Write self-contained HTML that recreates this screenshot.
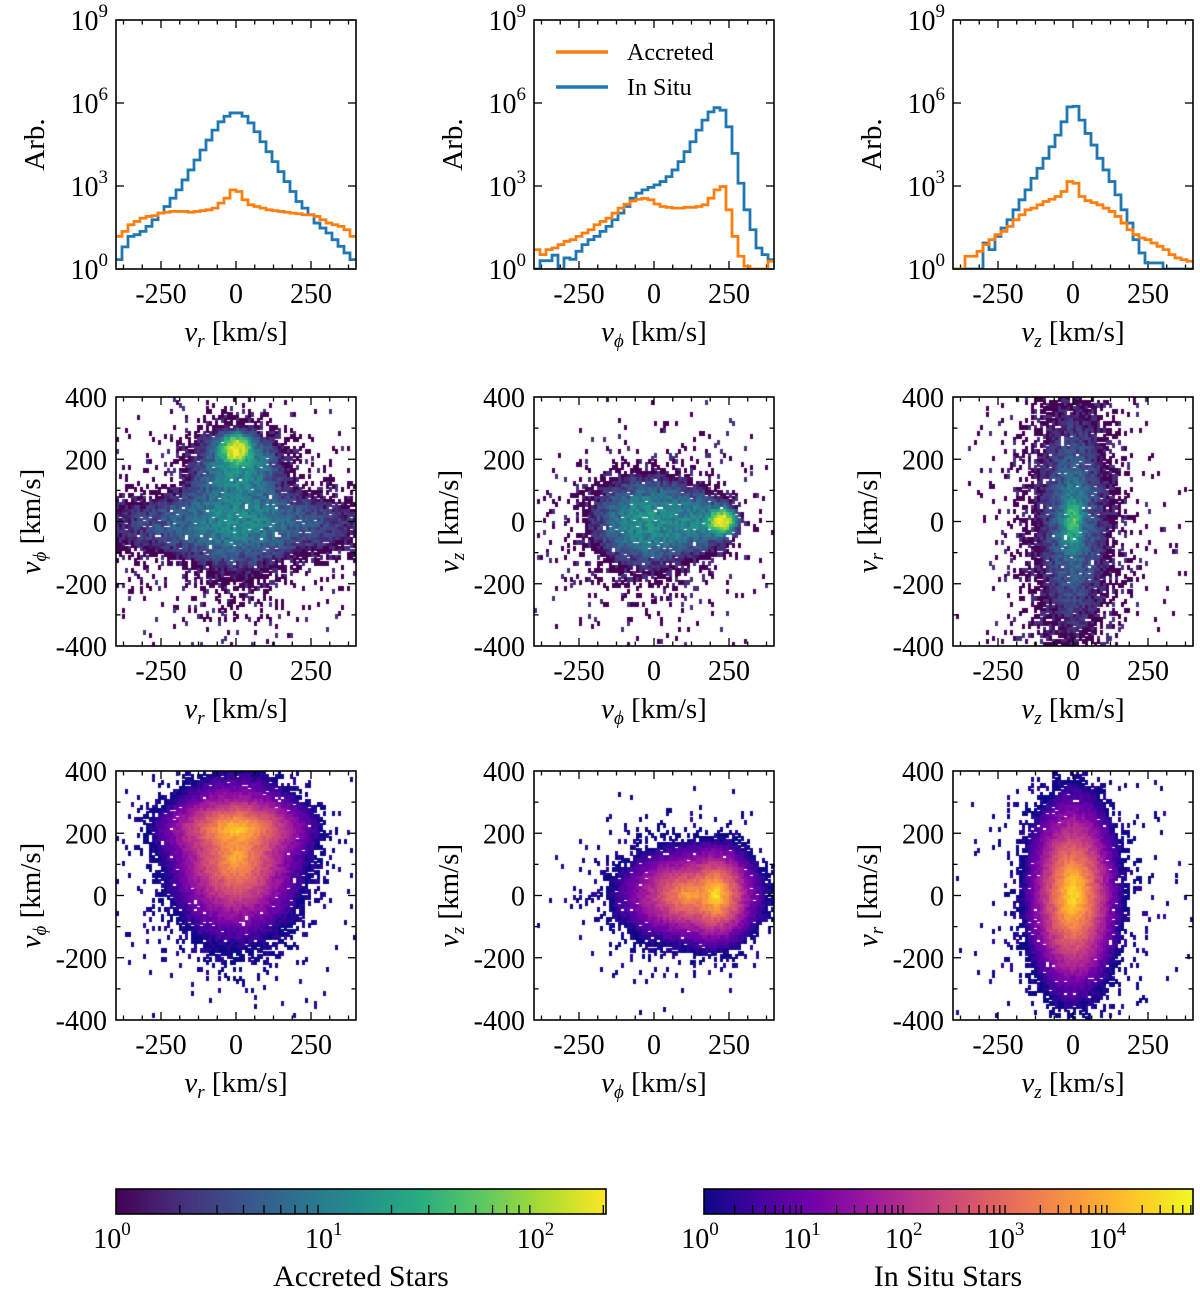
<!DOCTYPE html>
<html><head><meta charset="utf-8">
<style>
body{margin:0;background:#fff;width:1200px;height:1293px;position:relative;overflow:hidden;font-family:"Liberation Serif",serif;}
canvas{position:absolute;}
svg{position:absolute;left:0;top:0;}
text{font-family:"Liberation Serif",serif;fill:#000;}
</style></head>
<body>
<canvas id="h0" width="240" height="249" style="left:116px;top:397px"></canvas>
<canvas id="h1" width="240" height="249" style="left:534px;top:397px"></canvas>
<canvas id="h2" width="240" height="249" style="left:953px;top:397px"></canvas>
<canvas id="h3" width="240" height="249" style="left:116px;top:771px"></canvas>
<canvas id="h4" width="240" height="249" style="left:534px;top:771px"></canvas>
<canvas id="h5" width="240" height="249" style="left:953px;top:771px"></canvas>
<canvas id="cb0" width="490" height="25" style="left:116px;top:1189px"></canvas>
<canvas id="cb1" width="489" height="25" style="left:704px;top:1189px"></canvas>
<svg id="fig" width="1200" height="1293" xmlns="http://www.w3.org/2000/svg">
  <g>
    <line x1="556" y1="52" x2="608" y2="52" stroke="#ff7f0e" stroke-width="3.5"/>
    <text x="627" y="60" font-size="24">Accreted</text>
    <line x1="556" y1="87" x2="608" y2="87" stroke="#1f77b4" stroke-width="3.5"/>
    <text x="627" y="95" font-size="24">In Situ</text>
  </g>
  <text x="361" y="1286" font-size="30" text-anchor="middle">Accreted Stars</text>
  <text x="948" y="1286" font-size="30" text-anchor="middle">In Situ Stars</text>
</svg>
<script>
// ---- 1D histogram data: log10(counts), bins of 20 km/s from -400 to 400 ----
const histBinStart = -400;
const histBinWidth = 20;
const vrInSitu = [0.34,0.8,1.18,1.24,1.36,1.54,1.78,2.02,2.26,2.56,2.86,3.22,3.58,3.94,4.3,4.66,5.02,5.32,5.52,5.64,5.64,5.52,5.28,4.96,4.6,4.24,3.88,3.52,3.16,2.8,2.44,2.2,1.96,1.66,1.48,1.3,1.06,0.82,0.58,0.34];
const vrAccreted = [1.18,1.36,1.6,1.72,1.84,1.9,1.93,2.02,2.05,2.08,2.08,2.08,2.05,2.08,2.11,2.14,2.2,2.38,2.56,2.86,2.8,2.5,2.32,2.26,2.2,2.14,2.11,2.08,2.05,2.02,2.0,1.96,1.96,1.9,1.78,1.66,1.6,1.54,1.42,1.18];
const vphiInSitu = [0,0.3,0.3,0.5,0,0.4,0.35,0.64,0.88,1.06,1.18,1.36,1.54,1.78,2.02,2.26,2.56,2.74,2.86,2.95,3.04,3.16,3.34,3.58,3.88,4.24,4.6,5.02,5.38,5.68,5.83,5.74,5.14,4.18,3.1,2.14,1.42,0.76,0.52,0.34];
const vphiAccreted = [0.7,0.52,0.7,0.76,0.88,1.0,1.06,1.18,1.3,1.42,1.6,1.72,1.84,2.02,2.2,2.34,2.46,2.52,2.55,2.5,2.35,2.26,2.23,2.2,2.2,2.23,2.23,2.26,2.32,2.56,2.86,2.98,2.14,1.18,0.46,0.1,0,0,0,0.28];
const vzInSitu = [0,0,0,0,0,0.94,0.7,1.18,1.48,1.78,2.14,2.5,2.86,3.28,3.64,4.0,4.42,4.84,5.32,5.86,5.88,5.38,4.9,4.48,4.0,3.58,3.16,2.68,2.14,1.66,1.06,0.58,0.22,0.22,0.22,0,0,0,0,0];
const vzAccreted = [0,0,0.46,0.46,0.64,0.88,1.06,1.24,1.36,1.54,1.78,1.96,2.14,2.2,2.32,2.44,2.52,2.62,2.8,3.16,3.1,2.62,2.47,2.4,2.32,2.2,2.08,1.9,1.66,1.42,1.24,1.12,1.06,0.94,0.82,0.7,0.52,0.4,0.34,0.28];

// ---- 2D density components: [centerX, centerY, scaleX, scaleY, peakCounts, profile(2=gauss,1=exp)] (km/s) ----
const accVrVphi = [[0,-10,250,55,6,2],[0,60,90,120,7,2],[0,230,22,20,220,2],[10,190,60,50,12,2],[0,-30,220,200,0.6,2]];
const accVphiVz = [[-20,0,90,70,14,2],[225,0,20,18,220,2],[150,0,60,50,8,2],[0,-20,200,170,0.5,2]];
const accVzVr   = [[0,0,75,250,4,2],[0,0,14,35,40,2],[0,0,30,100,7,2],[0,0,160,300,0.4,2]];
const insVrVphi = [[0,210,28,14,30000,1],[0,120,27,32,10000,1],[0,0,180,170,0.5,2]];
const insVphiVz = [[205,0,14,17,50000,1],[120,0,30,19,8000,1],[50,0,150,140,0.5,2]];
const insVzVr   = [[0,0,16,34,50000,1],[0,0,150,220,0.5,2]];
const accMax = 206, insMax = 63000;

const NS = "http://www.w3.org/2000/svg";
const svg = document.getElementById('fig');
const COLS = [116,534,953], ROWS = [20,397,771], W = 240, H = 249;
function mk(tag, attrs, parent){const e=document.createElementNS(NS,tag);for(const k in attrs)e.setAttribute(k,attrs[k]);(parent||svg).appendChild(e);return e;}
function xScale(c){return v=>COLS[c]+(v+400)/800*W;}
function yLin(r){return v=>ROWS[r]+(400-v)/800*H;}
function yLog(r){return v=>ROWS[r]+H-(v/9)*H;}

const viridis=["#440154","#472d7b","#3b528b","#2c728e","#21918c","#28ae80","#5ec962","#addc30","#fde725"];
const plasma=["#0d0887","#46039f","#7201a8","#9c179e","#bd3786","#d8576b","#ed7953","#fb9f3a","#fdca26","#f0f921"];
function cmap(stops,t){t=Math.max(0,Math.min(1,t));const n=stops.length-1;const i=Math.min(n-1,Math.floor(t*n));const f=t*n-i;
  const a=stops[i],b=stops[i+1];const p=(s,o)=>parseInt(s.substr(o,2),16);
  const r=Math.round(p(a,1)+(p(b,1)-p(a,1))*f),g=Math.round(p(a,3)+(p(b,3)-p(a,3))*f),bl=Math.round(p(a,5)+(p(b,5)-p(a,5))*f);
  return `rgb(${r},${g},${bl})`;}
function hash(i,j,k){let h=(i*374761393+j*668265263+k*1442695041)|0;h=Math.imul(h^(h>>>13),1274126177);h^=h>>>16;return (h>>>0)/4294967296;}

const xlabels=[["v","r"],["v","ϕ"],["v","z"]];
const ylabRow2=[["v","ϕ"],["v","z"],["v","r"]];
function axisLabel(x,y,lab,rot,name){
  const t=mk('text',{x:x,y:y,'font-size':29,'text-anchor':'middle'});
  if(rot)t.setAttribute('transform',`rotate(-90 ${x} ${y})`);
  
  
  const a=mk('tspan',{'font-style':'italic'},t);a.textContent=lab[0];
  const b=mk('tspan',{'font-style':'italic','font-size':19,dy:6},t);b.textContent=lab[1];
  const c=mk('tspan',{dy:-6},t);c.textContent="  [km/s]";
}
function pow10(x,y,e,anchor,name){
  const t=mk('text',{x:x,y:y,'font-size':28,'text-anchor':anchor});
  
  
  const a=mk('tspan',{},t);a.textContent="10";
  const b=mk('tspan',{'font-size':19,dy:-13},t);b.textContent=String(e);
}
for(let r=0;r<3;r++){for(let c=0;c<3;c++){
  const x0=COLS[c],y0=ROWS[r];
  const g=mk('g',{});
  
  
  const X=xScale(c);
  for(let v=-375;v<=375;v+=62.5){const major=(v%250===0);const L=major?8:4.5;const px=X(v);
    mk('line',{x1:px,y1:y0+H,x2:px,y2:y0+H-L,stroke:'#000','stroke-width':1.3},g);
    mk('line',{x1:px,y1:y0,x2:px,y2:y0+L,stroke:'#000','stroke-width':1.3},g);}
  [-250,0,250].forEach(v=>{const t=mk('text',{x:X(v),y:y0+H+34,'font-size':28,'text-anchor':'middle'},g);t.textContent=(v<0?"-"+(-v):String(v));
    
    });
  axisLabel(x0+W/2,y0+H+72,xlabels[c],false,'x-axis-title');
  if(r===0){
    const Y=yLog(r);
    [0,3,6,9].forEach(e=>{const py=Y(e);
      mk('line',{x1:x0,y1:py,x2:x0+8,y2:py,stroke:'#000','stroke-width':1.3},g);
      mk('line',{x1:x0+W,y1:py,x2:x0+W-8,y2:py,stroke:'#000','stroke-width':1.3},g);
      pow10(x0-8,py+10,e,'end','y-tick-label');});
    const t=mk('text',{x:x0-72,y:y0+H/2,'font-size':29,'text-anchor':'middle',transform:`rotate(-90 ${x0-72} ${y0+H/2})`},g);t.textContent="Arb.";
    
    
  } else {
    const Y=yLin(r);
    for(let v=-300;v<=300;v+=100){const major=(v%200===0);const L=major?8:4.5;const py=Y(v);
      mk('line',{x1:x0,y1:py,x2:x0+L,y2:py,stroke:'#000','stroke-width':1.3},g);
      mk('line',{x1:x0+W,y1:py,x2:x0+W-L,y2:py,stroke:'#000','stroke-width':1.3},g);}
    [-400,-200,0,200,400].forEach(v=>{const t=mk('text',{x:x0-9,y:Y(v)+10,'font-size':28,'text-anchor':'end'},g);t.textContent=(v<0?"-"+(-v):String(v));
      
      });
    axisLabel(x0-76,y0+H/2,ylabRow2[c],true,'y-axis-title');
  }
  mk('rect',{x:x0,y:y0,width:W,height:H,fill:'none',stroke:'#000','stroke-width':1.6},g);
}}

function stepPath(c,vals){const X=xScale(c),Y=yLog(0);let d="";
  vals.forEach((v,i)=>{const xa=X(histBinStart+i*histBinWidth),xb=X(histBinStart+(i+1)*histBinWidth);const y=Y(Math.max(0,v));
    d+=(i===0?`M${xa},${y}`:`L${xa},${y}`)+`L${xb},${y}`;});return d;}
const histSets=[[vrInSitu,vrAccreted],[vphiInSitu,vphiAccreted],[vzInSitu,vzAccreted]];
histSets.forEach((s,c)=>{
  const cp=mk('clipPath',{id:'cp'+c});mk('rect',{x:COLS[c],y:ROWS[0],width:W,height:H},cp);
  const pb=mk('path',{d:stepPath(c,s[0]),fill:'none',stroke:'#1f77b4','stroke-width':2.8,'clip-path':`url(#cp${c})`});
  
  
  const po=mk('path',{d:stepPath(c,s[1]),fill:'none',stroke:'#ff7f0e','stroke-width':2.8,'clip-path':`url(#cp${c})`});
  
  
});
Array.from(svg.querySelectorAll('rect[fill="none"]')).forEach(r=>svg.appendChild(r));

function dens(x,y,comps){let s=0;comps.forEach(k=>{const dx=(x-k[0])/k[2],dy=(y-k[1])/k[3];
  s+= k[5]===1 ? k[4]*Math.exp(-Math.sqrt(dx*dx+dy*dy)) : k[4]*Math.exp(-0.5*(dx*dx+dy*dy));});return s;}
function heat(id,comps,stops,vmax,seed){
  const ctx=document.getElementById(id).getContext('2d');const nb=80,cw=W/nb,ch=H/nb;
  for(let i=0;i<nb;i++)for(let j=0;j<nb;j++){
    const vx=-400+(i+0.5)*10,vy=400-(j+0.5)*10;const d=dens(vx,vy,comps);
    const h1=hash(i,j,seed),h2=hash(j,i,seed+7);
    let n;
    if(d<1.5){ if(h1<d*0.6) n=1+(h2<0.3?1:0); else continue; }
    else { n=d*(0.5+1.0*h2); if(d<30 && h1<0.06) continue; }
    ctx.fillStyle=cmap(stops,Math.log10(Math.max(1,n))/Math.log10(vmax));
    ctx.fillRect(Math.floor(i*cw),Math.floor(j*ch),Math.ceil(cw),Math.ceil(ch)+1);
  }
}
heat('h0',accVrVphi,viridis,accMax,11);
heat('h1',accVphiVz,viridis,accMax,23);
heat('h2',accVzVr,viridis,accMax,37);
heat('h3',insVrVphi,plasma,insMax,41);
heat('h4',insVphiVz,plasma,insMax,53);
heat('h5',insVzVr,plasma,insMax,67);

function cbar(id,stops,left,width,vmax,decs,name){
  const cv=document.getElementById(id),ctx=cv.getContext('2d');
  for(let x=0;x<width;x++){ctx.fillStyle=cmap(stops,x/(width-1));ctx.fillRect(x,0,1,25);}
  const g=mk('g',{});
  
  
  const lv=Math.log10(vmax),px=v=>left+Math.log10(v)/lv*width;
  for(let e=0;e<=decs;e++)for(let m=2;m<=9;m++){const v=m*Math.pow(10,e);if(v>vmax)break;
    mk('line',{x1:px(v),y1:1214,x2:px(v),y2:1205,stroke:'#000','stroke-width':1.3},g);}
  for(let e=0;e<=decs;e++){if(Math.pow(10,e)>vmax)break;pow10(px(Math.pow(10,e))-4,1248,e,'middle','colorbar-tick-label');}
  mk('rect',{x:left,y:1189,width:width,height:25,fill:'none',stroke:'#000','stroke-width':1.6},g);
}
cbar('cb0',viridis,116,490,accMax,2,'colorbar-accreted-axis');
cbar('cb1',plasma,704,489,insMax,4,'colorbar-insitu-axis');
</script>
</body></html>
